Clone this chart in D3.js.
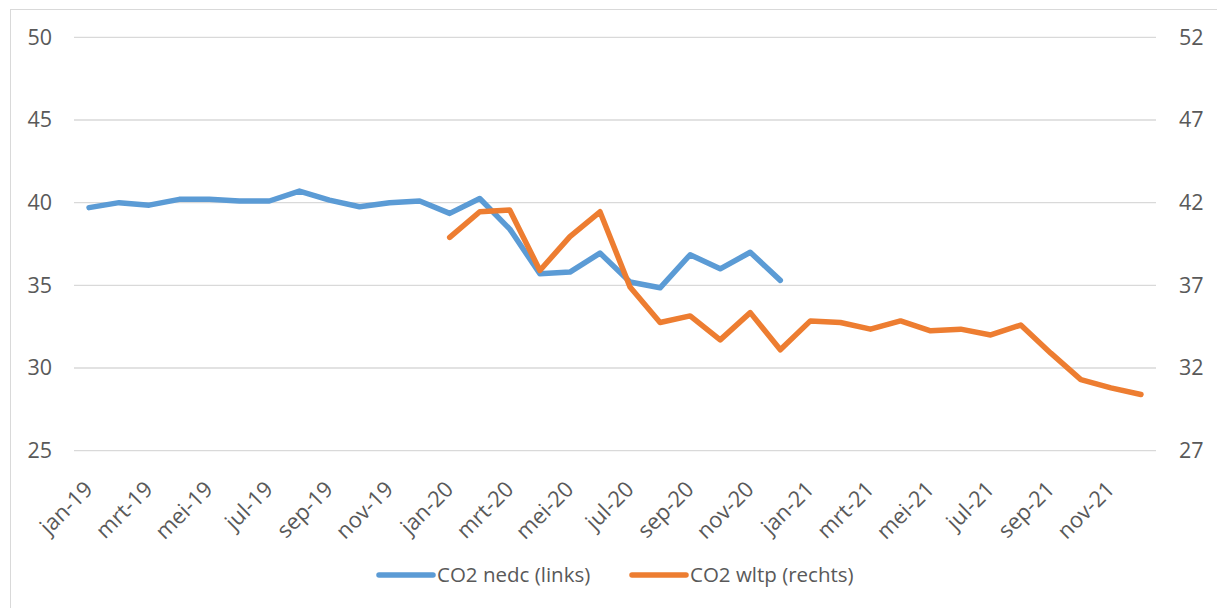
<!DOCTYPE html>
<html>
<head>
<meta charset="utf-8">
<script src="https://cdn.jsdelivr.net/npm/d3@7"></script>
<style>
  body { margin: 0; background: #fff; }
  text { font-family: "Open Sans", sans-serif; fill: #595959; }
</style>
</head>
<body>
<svg id="chart" width="1217" height="608"></svg>
<script>
var svg = d3.select("#chart");

var width = +svg.attr("width");
var height = +svg.attr("height");

// months jan-19 .. dec-21
var monthNames = ["jan", "feb", "mrt", "apr", "mei", "jun", "jul", "aug", "sep", "okt", "nov", "dec"];
var years = ["19", "20", "21"];
var months = [];
years.forEach(function (y) {
  monthNames.forEach(function (m) { months.push(m + "-" + y); });
});

// CO2 nedc (left axis), jan-19 .. dec-20
var nedc = [39.7, 40.0, 39.85, 40.2, 40.2, 40.1, 40.1, 40.7, 40.15, 39.75, 40.0, 40.1,
            39.35, 40.25, 38.4, 35.7, 35.8, 36.95, 35.2, 34.85, 36.85, 36.0, 37.0, 35.3];

// CO2 wltp (right axis), jan-20 .. dec-21
var wltpStart = "jan-20";
var wltp = [39.9, 41.45, 41.55, 37.9, 39.95, 41.45, 36.9, 34.75, 35.15, 33.7, 35.35, 33.1,
            34.85, 34.75, 34.35, 34.85, 34.25, 34.35, 34.0, 34.6, 32.9, 31.3, 30.8, 30.4];

var leftTicks = [25, 30, 35, 40, 45, 50];
var rightTicks = [27, 32, 37, 42, 47, 52];

var seriesNames = ["CO2 nedc (links)", "CO2 wltp (rechts)"];
var colors = ["#5B9BD5", "#ED7D31"];

var plotLeft = 74, plotRight = 1156, plotTop = 37.3, plotBottom = 450.7;

var xScale = d3.scaleBand()
  .domain(months)
  .range([plotLeft, plotRight]);

var yLeft = d3.scaleLinear()
  .domain([25, 50])
  .range([plotBottom, plotTop]);

var yRight = d3.scaleLinear()
  .domain([27, 52])
  .range([plotBottom, plotTop]);

// chart frame
svg.append("rect")
  .attr("x", 10.5).attr("y", 9.5)
  .attr("width", width - 10).attr("height", height)
  .attr("fill", "none")
  .attr("stroke", "#d9d9d9")
  .attr("stroke-width", 1);

// gridlines
svg.append("g")
  .selectAll("line")
  .data(leftTicks)
  .join("line")
  .attr("x1", plotLeft).attr("x2", plotRight)
  .attr("y1", function (d) { return yLeft(d); })
  .attr("y2", function (d) { return yLeft(d); })
  .attr("stroke", "#d9d9d9")
  .attr("stroke-width", 1.3);

// left axis
var leftAxis = d3.axisLeft(yLeft).tickValues(leftTicks).tickSize(0).tickPadding(0);
var gl = svg.append("g")
  .attr("transform", "translate(52,0)")
  .call(leftAxis);
gl.select(".domain").remove();
gl.selectAll("text").style("font-size", "21.5px").style("font-family", "Open Sans").attr("fill", "#595959");

// right axis
var rightAxis = d3.axisRight(yRight).tickValues(rightTicks).tickSize(0).tickPadding(0);
var gr = svg.append("g")
  .attr("transform", "translate(1179,0)")
  .call(rightAxis);
gr.select(".domain").remove();
gr.selectAll("text").style("font-size", "21.5px").style("font-family", "Open Sans").attr("fill", "#595959");

// x-axis labels, every other month, rotated
var bottomAxis = d3.axisBottom(xScale)
  .tickValues(months.filter(function (d, i) { return i % 2 === 0; }))
  .tickSize(0).tickPadding(0);
var gx = svg.append("g")
  .attr("transform", "translate(0," + plotBottom + ")")
  .call(bottomAxis);
gx.select(".domain").remove();
gx.selectAll("text")
  .style("font-size", "22px").style("font-family", "Open Sans").attr("fill", "#595959")
  .attr("text-anchor", "end")
  .attr("dy", "0")
  .attr("transform", "translate(5,40) rotate(-45)");

// lines
var xc = function (m) { return xScale(m) + xScale.bandwidth() / 2; };

var nedcData = nedc.map(function (v, i) { return { m: months[i], v: v }; });
var w0 = months.indexOf(wltpStart);
var wltpData = wltp.map(function (v, i) { return { m: months[w0 + i], v: v }; });

svg.append("path")
  .datum(nedcData)
  .attr("fill", "none")
  .attr("stroke", colors[0])
  .attr("stroke-width", 5.5)
  .attr("stroke-linecap", "round")
  .attr("stroke-linejoin", "round")
  .attr("d", d3.line().x(function (d) { return xc(d.m); }).y(function (d) { return yLeft(d.v); }));

svg.append("path")
  .datum(wltpData)
  .attr("fill", "none")
  .attr("stroke", colors[1])
  .attr("stroke-width", 5.5)
  .attr("stroke-linecap", "round")
  .attr("stroke-linejoin", "round")
  .attr("d", d3.line().x(function (d) { return xc(d.m); }).y(function (d) { return yRight(d.v); }));

// legend
var legendX = [379, 632];
var legendY = 575;
var lg = svg.append("g").selectAll("g")
  .data(seriesNames)
  .join("g")
  .attr("transform", function (d, i) { return "translate(" + legendX[i] + "," + legendY + ")"; });
lg.append("line")
  .attr("x1", 0).attr("x2", 54)
  .attr("stroke", function (d, i) { return colors[i]; })
  .attr("stroke-width", 5.5)
  .attr("stroke-linecap", "round");
lg.append("text")
  .attr("x", 58)
  .attr("dy", "0.35em")
  .style("font-size", "20.5px")
  .text(function (d) { return d; });
</script>
</body>
</html>
